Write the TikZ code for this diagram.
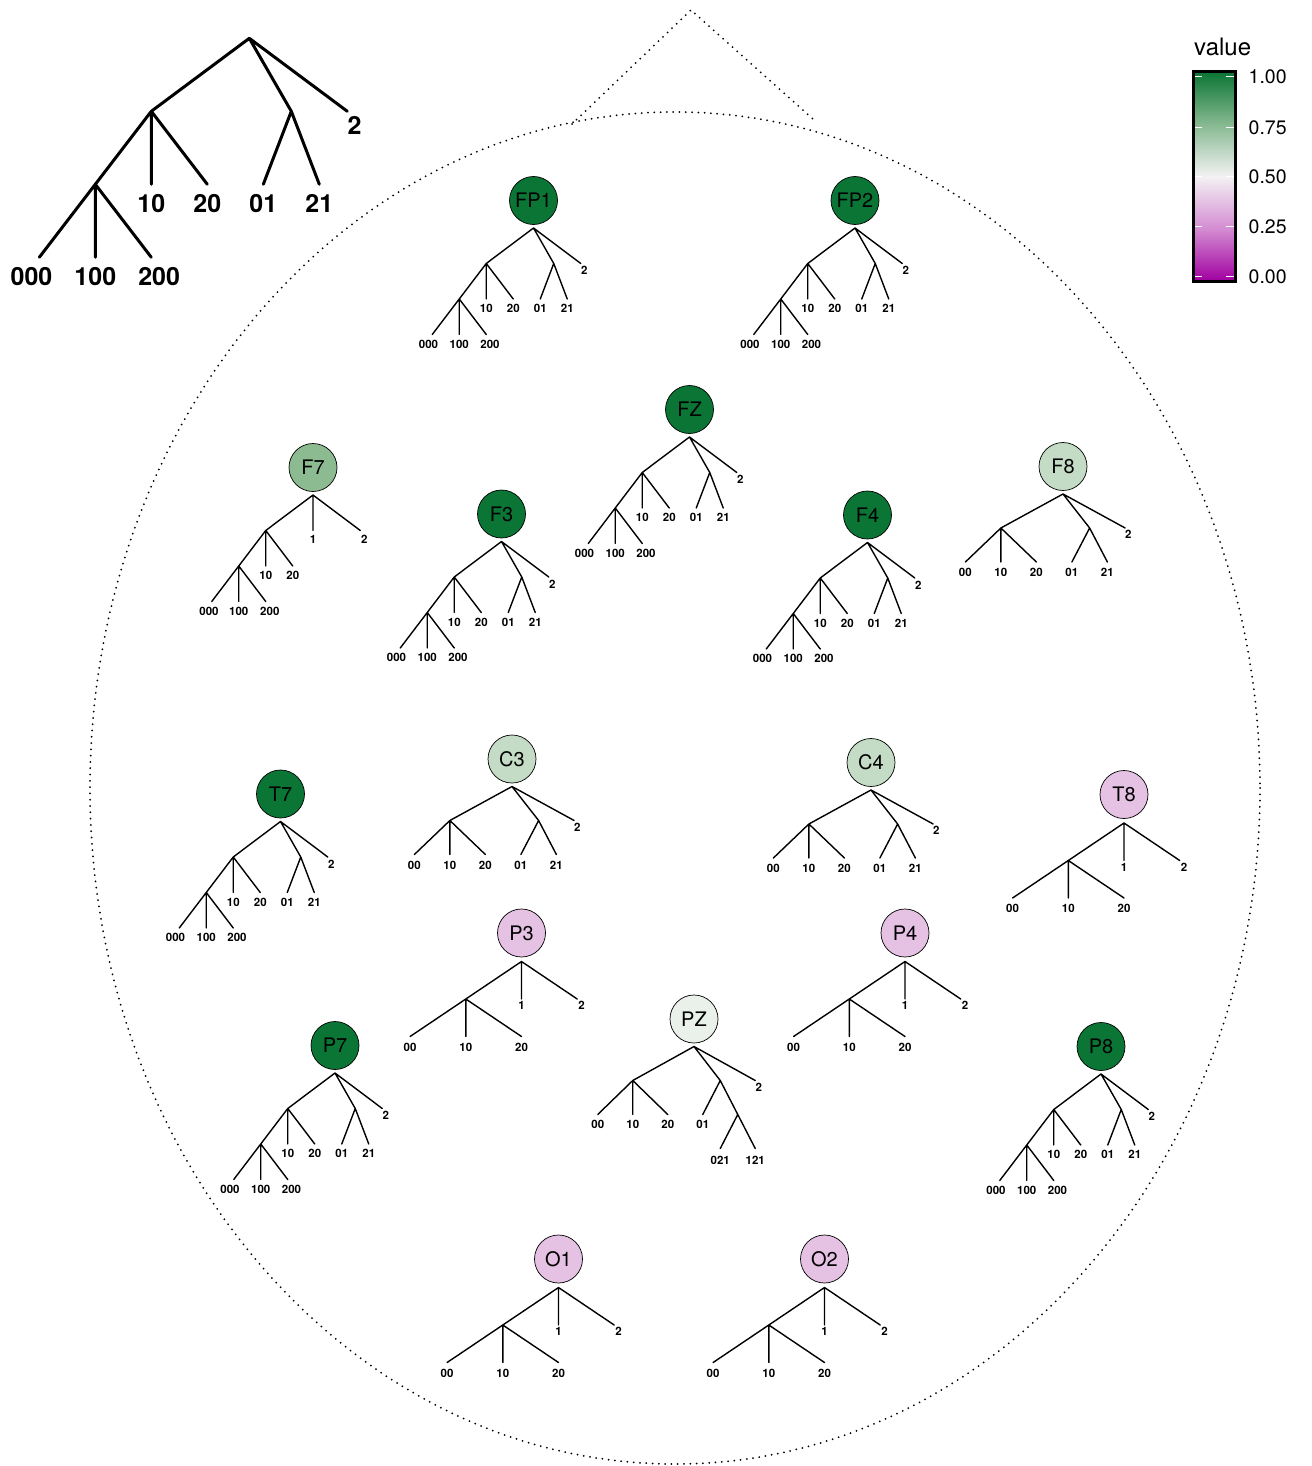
\documentclass[tikz,border=0pt]{standalone}
\usepackage{fontspec}
\setmainfont{TeX Gyre Heros}
\definecolor{dkgreen}{RGB}{11,117,53}
\definecolor{mdgreen}{RGB}{140,186,145}
\definecolor{ltgreen}{RGB}{196,220,197}
\definecolor{vlgreen}{RGB}{234,240,234}
\definecolor{ltpink}{RGB}{229,193,227}
\definecolor{cbz}{RGB}{160,0,160}
\definecolor{cbq}{RGB}{212,140,210}
\definecolor{cbh}{RGB}{243,242,243}
\definecolor{cbt}{RGB}{134,185,144}
\definecolor{cbo}{RGB}{11,117,53}
\pgfdeclareverticalshading{cbar}{100bp}{color(0bp)=(cbz); color(25bp)=(cbz); color(37.5bp)=(cbq); color(50bp)=(cbh); color(62.5bp)=(cbt); color(75bp)=(cbo); color(100bp)=(cbo)}
\tikzset{
 edge/.style={line width=1.4pt, line cap=round, line join=round},
 bigedge/.style={line width=3pt, line cap=round, line join=round},
 lab/.style={font=\fontsize{11.5}{12}\selectfont\bfseries, inner sep=0pt},
 biglab/.style={font=\fontsize{25}{26}\selectfont\bfseries, inner sep=0pt},
 elec/.style={circle, draw=black, line width=0.7pt, minimum size=48pt, inner sep=0pt, font=\fontsize{20}{21}\selectfont},
 headline/.style={line width=2pt, dash pattern=on 0pt off 6.3pt, line cap=round},
 ticklab/.style={anchor=west, inner sep=0pt, font=\fontsize{19.5}{20}\selectfont},
}
% full tree: prefix, x, y, u, d, label dy, edge style, label style
\newcommand{\TreeFull}[8]{%
\begin{scope}[shift={(#2,#3)}]
 \coordinate (#1r) at (0,0);
 \coordinate (#1a) at ({-1.75*#4},{#5});
 \coordinate (#1b) at ({0.75*#4},{#5});
 \coordinate (#1l2) at ({1.75*#4},{#5});
 \coordinate (#1c) at ({-2.75*#4},{2*#5});
 \coordinate (#1l10) at ({-1.75*#4},{2*#5});
 \coordinate (#1l20) at ({-0.75*#4},{2*#5});
 \coordinate (#1l01) at ({0.25*#4},{2*#5});
 \coordinate (#1l21) at ({1.25*#4},{2*#5});
 \coordinate (#1l000) at ({-3.75*#4},{3*#5});
 \coordinate (#1l100) at ({-2.75*#4},{3*#5});
 \coordinate (#1l200) at ({-1.75*#4},{3*#5});
 \draw[#7] (#1r)--(#1a) (#1r)--(#1b) (#1r)--(#1l2) (#1a)--(#1c) (#1a)--(#1l10) (#1a)--(#1l20)
   (#1b)--(#1l01) (#1b)--(#1l21) (#1c)--(#1l000) (#1c)--(#1l100) (#1c)--(#1l200);
 \node[#8] (#1t2) at ({1.88*#4},{#5+0.75*#6}) {2};
 \node[#8] (#1t10) at ({-1.75*#4},{2*#5+#6}) {10};
 \node[#8] (#1t20) at ({-0.75*#4},{2*#5+#6}) {20};
 \node[#8] (#1t01) at ({0.25*#4},{2*#5+#6}) {01};
 \node[#8] (#1t21) at ({1.25*#4},{2*#5+#6}) {21};
 \node[#8] (#1t000) at ({-3.89*#4},{3*#5+#6}) {000};
 \node[#8] (#1t100) at ({-2.75*#4},{3*#5+#6}) {100};
 \node[#8] (#1t200) at ({-1.61*#4},{3*#5+#6}) {200};
\end{scope}}
% F7 type: prefix, x, y
\newcommand{\TreeSeven}[3]{%
\begin{scope}[shift={(#2,#3)}]
 \coordinate (#1r) at (0,0);
 \coordinate (#1a) at ({-1.75*27},35.5);
 \coordinate (#1l1) at (0,35.5);
 \coordinate (#1l2) at ({1.75*27},35.5);
 \coordinate (#1c) at ({-2.75*27},71);
 \coordinate (#1l10) at ({-1.75*27},71);
 \coordinate (#1l20) at ({-0.75*27},71);
 \coordinate (#1l000) at ({-3.75*27},106.5);
 \coordinate (#1l100) at ({-2.75*27},106.5);
 \coordinate (#1l200) at ({-1.75*27},106.5);
 \draw[edge] (#1r)--(#1a) (#1r)--(#1l1) (#1r)--(#1l2) (#1a)--(#1c) (#1a)--(#1l10) (#1a)--(#1l20)
   (#1c)--(#1l000) (#1c)--(#1l100) (#1c)--(#1l200);
 \node[lab] (#1t1) at (0,{35.5+8.5}) {1};
 \node[lab] (#1t2) at ({1.75*27+4},{35.5+8.5}) {2};
 \node[lab] (#1t10) at ({-1.75*27},{71+9.5}) {10};
 \node[lab] (#1t20) at ({-0.75*27},{71+9.5}) {20};
 \node[lab] (#1t000) at ({-3.85*27},{106.5+9.5}) {000};
 \node[lab] (#1t100) at ({-2.75*27},{106.5+9.5}) {100};
 \node[lab] (#1t200) at ({-1.6*27},{106.5+9.5}) {200};
\end{scope}}
% F8/C3/C4 type
\newcommand{\TreeThree}[3]{%
\begin{scope}[shift={(#2,#3)}]
 \coordinate (#1r) at (0,0);
 \coordinate (#1a) at ({-1.75*35.5},34);
 \coordinate (#1b) at ({0.75*35.5},34);
 \coordinate (#1l2) at ({1.75*35.5},34);
 \coordinate (#1l00) at ({-2.75*35.5},68);
 \coordinate (#1l10) at ({-1.75*35.5},68);
 \coordinate (#1l20) at ({-0.75*35.5},68);
 \coordinate (#1l01) at ({0.25*35.5},68);
 \coordinate (#1l21) at ({1.25*35.5},68);
 \draw[edge] (#1r)--(#1a) (#1r)--(#1b) (#1r)--(#1l2) (#1a)--(#1l00) (#1a)--(#1l10) (#1a)--(#1l20)
   (#1b)--(#1l01) (#1b)--(#1l21);
 \node[lab] (#1t2) at ({1.75*35.5+3.3},{34+6.5}) {2};
 \node[lab] (#1t00) at ({-2.75*35.5},{68+10.5}) {00};
 \node[lab] (#1t10) at ({-1.75*35.5},{68+10.5}) {10};
 \node[lab] (#1t20) at ({-0.75*35.5},{68+10.5}) {20};
 \node[lab] (#1t01) at ({0.25*35.5},{68+10.5}) {01};
 \node[lab] (#1t21) at ({1.25*35.5},{68+10.5}) {21};
\end{scope}}
% T8/P3/P4/O1/O2 type
\newcommand{\TreeFour}[3]{%
\begin{scope}[shift={(#2,#3)}]
 \coordinate (#1r) at (0,0);
 \coordinate (#1a) at (-55.7,37.5);
 \coordinate (#1l1) at (0,37.5);
 \coordinate (#1l2) at (55.7,37.5);
 \coordinate (#1l00) at (-111.4,75);
 \coordinate (#1l10) at (-55.7,75);
 \coordinate (#1l20) at (0,75);
 \draw[edge] (#1r)--(#1a) (#1r)--(#1l1) (#1r)--(#1l2) (#1a)--(#1l00) (#1a)--(#1l10) (#1a)--(#1l20);
 \node[lab] (#1t1) at (0,{37.5+6.6}) {1};
 \node[lab] (#1t2) at ({55.7+4.4},{37.5+6.6}) {2};
 \node[lab] (#1t00) at (-111.4,{75+10.7}) {00};
 \node[lab] (#1t10) at (-55.7,{75+10.7}) {10};
 \node[lab] (#1t20) at (0,{75+10.7}) {20};
\end{scope}}
% PZ type
\newcommand{\TreeFive}[3]{%
\begin{scope}[shift={(#2,#3)}]
 \coordinate (#1r) at (0,0);
 \coordinate (#1a) at ({-1.75*35},34);
 \coordinate (#1b) at ({0.75*35},34);
 \coordinate (#1l2) at ({1.75*35},34);
 \coordinate (#1l00) at ({-2.75*35},68);
 \coordinate (#1l10) at ({-1.75*35},68);
 \coordinate (#1l20) at ({-0.75*35},68);
 \coordinate (#1l01) at ({0.25*35},68);
 \coordinate (#1d) at ({1.25*35},68);
 \coordinate (#1l021) at ({0.75*35},102);
 \coordinate (#1l121) at ({1.75*35},102);
 \draw[edge] (#1r)--(#1a) (#1r)--(#1b) (#1r)--(#1l2) (#1a)--(#1l00) (#1a)--(#1l10) (#1a)--(#1l20)
   (#1b)--(#1l01) (#1b)--(#1d) (#1d)--(#1l021) (#1d)--(#1l121);
 \node[lab] (#1t2) at ({1.75*35+3.5},{34+6.7}) {2};
 \node[lab] (#1t00) at ({-2.75*35},{68+9.5}) {00};
 \node[lab] (#1t10) at ({-1.75*35},{68+9.5}) {10};
 \node[lab] (#1t20) at ({-0.75*35},{68+9.5}) {20};
 \node[lab] (#1t01) at ({0.25*35},{68+9.5}) {01};
 \node[lab] (#1t021) at ({0.75*35},{102+11.5}) {021};
 \node[lab] (#1t121) at ({1.75*35},{102+11.5}) {121};
\end{scope}}
\newcommand{\ElecFull}[4]{\node[elec,fill=#4] (#1) at (#2,#3) {#1}; \TreeFull{#1-}{#2}{#3+27.5}{27}{35.5}{9.5}{edge}{lab}}
\newcommand{\ElecSeven}[4]{\node[elec,fill=#4] (#1) at (#2,#3) {#1}; \TreeSeven{#1-}{#2}{#3+27.5}}
\newcommand{\ElecThree}[4]{\node[elec,fill=#4] (#1) at (#2,#3) {#1}; \TreeThree{#1-}{#2}{#3+27.5}}
\newcommand{\ElecFour}[4]{\node[elec,fill=#4] (#1) at (#2,#3) {#1}; \TreeFour{#1-}{#2}{#3+28.5}}
\newcommand{\ElecFive}[4]{\node[elec,fill=#4] (#1) at (#2,#3) {#1}; \TreeFive{#1-}{#2}{#3+27.5}}
\begin{document}
\begin{tikzpicture}[x=1pt,y=-1pt]
\useasboundingbox (0,0) rectangle (1311,1466);
% head outline and nose
\draw[headline] (675,788) ellipse [x radius=585, y radius=676];
\coordinate (noseL) at (572,124);
\coordinate (noseT) at (691,10);
\coordinate (noseR) at (814,120);
\draw[headline] (noseL) -- (noseT) -- (noseR);
% legend tree
\TreeFull{big-}{249.3}{38.3}{56}{73}{19}{bigedge}{biglab}
% electrodes
\ElecFull{FP1}{533.5}{200.5}{dkgreen}
\ElecFull{FP2}{855}{200.5}{dkgreen}
\ElecFull{FZ}{689.5}{409.5}{dkgreen}
\ElecFull{F3}{501.5}{514}{dkgreen}
\ElecFull{F4}{867.5}{515}{dkgreen}
\ElecFull{T7}{280.5}{794}{dkgreen}
\ElecFull{P7}{335}{1045.5}{dkgreen}
\ElecFull{P8}{1101}{1046.5}{dkgreen}
\ElecSeven{F7}{313}{467.5}{mdgreen}
\ElecThree{F8}{1063}{466.5}{ltgreen}
\ElecThree{C3}{512}{759}{ltgreen}
\ElecThree{C4}{871}{762.5}{ltgreen}
\ElecFour{T8}{1124}{794.5}{ltpink}
\ElecFour{P3}{521.5}{933}{ltpink}
\ElecFour{P4}{905}{933}{ltpink}
\ElecFour{O1}{558.5}{1259}{ltpink}
\ElecFour{O2}{824.5}{1259}{ltpink}
\ElecFive{PZ}{694}{1019}{vlgreen}
% colour bar
\node[anchor=base west, inner sep=0pt, font=\fontsize{24}{25}\selectfont] (cbtitle) at (1194,56) {value};
\shade[shading=cbar] (1193,72) rectangle (1235,281);
\foreach \v/\yy in {1.00/76.7, 0.75/127.7, 0.50/176.7, 0.25/226.7, 0.00/276.7}{
  \draw[white, line width=1.2pt] (1194,\yy) -- (1202,\yy) (1226,\yy) -- (1234,\yy);
  \node[ticklab] at (1248.5,\yy) {\v};
}
\draw[line width=3pt] (1193,72) rectangle (1235,281);
\end{tikzpicture}
\end{document}
